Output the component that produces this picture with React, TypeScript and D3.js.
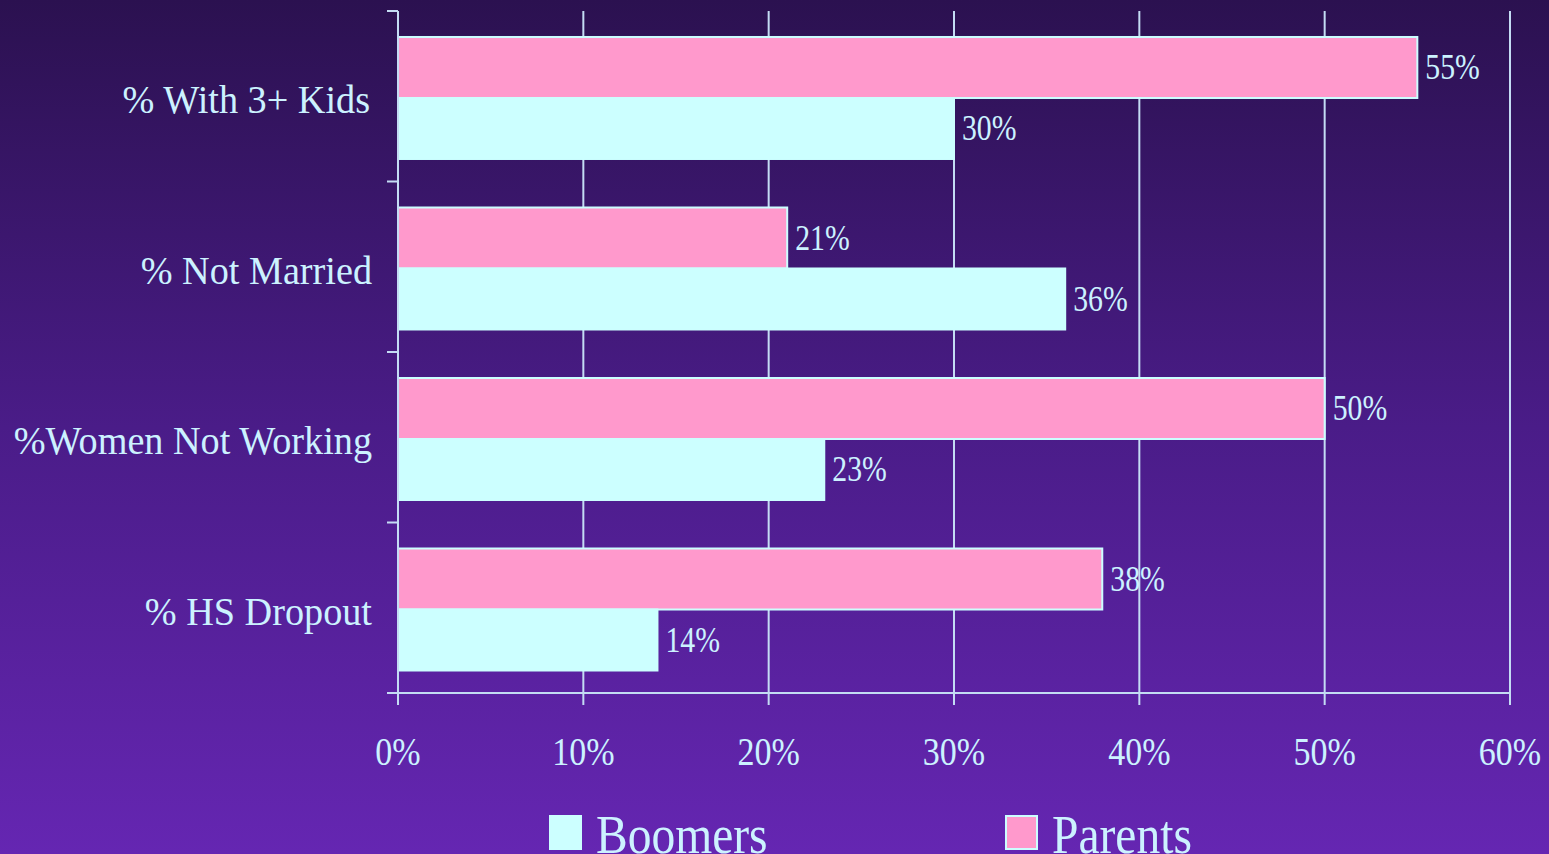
import React from "react";
import * as d3 from "d3";

const categories = ["% With 3+ Kids", "% Not Married", "%Women Not Working", "% HS Dropout"];
const seriesNames = ["Parents", "Boomers"];
const parentsValues = [55, 21, 50, 38];
const boomersValues = [30, 36, 23, 14];
const xTicks = [0, 10, 20, 30, 40, 50, 60];
const legendItems = ["Boomers", "Parents"];

const W = 1549;
const H = 854;
const TEXT = "#ccf2ff";
const GRID = "#c4dcf4";
const PINK = "#ff99cc";
const CYAN = "#ccffff";
const FONT = "'Liberation Serif', 'Times New Roman', serif";

export default function App() {
  const x = d3.scaleLinear().domain([0, 60]).range([398, 1510]);
  const y = d3
    .scaleBand<string>()
    .domain(categories)
    .range([11, 693])
    .paddingInner(0.2845)
    .paddingOuter(0.1422)
    .align(0.536);
  const ySub = d3.scaleBand<string>().domain(seriesNames).range([0, y.bandwidth()]);
  const values: Record<string, number[]> = { Parents: parentsValues, Boomers: boomersValues };
  const colors: Record<string, string> = { Parents: PINK, Boomers: CYAN };
  const step = (693 - 11) / categories.length;
  const boundaries = d3.range(categories.length + 1).map((i) => 11 + i * step);

  return (
    <div style={{ position: "absolute", left: 0, top: 0 }}>
      <svg width={W} height={H} style={{ display: "block" }}>
        <defs>
          <linearGradient id="bg" x1="0" y1="0" x2="0" y2="1">
            <stop offset="0" stopColor="#2b1150" />
            <stop offset="0.5" stopColor="#4a1c88" />
            <stop offset="1" stopColor="#6526b2" />
          </linearGradient>
        </defs>
        <rect x={0} y={0} width={W} height={H} fill="url(#bg)" />
        {xTicks.slice(1).map((t) => (
          <line key={"g" + t} x1={x(t)} x2={x(t)} y1={11} y2={693} stroke={GRID} strokeWidth={2} />
        ))}
        {categories.map((c, i) =>
          seriesNames.map((s) => {
            const v = values[s][i];
            const by = (y(c) as number) + (ySub(s) as number);
            const bh = ySub.bandwidth();
            return (
              <g key={c + s}>
                <rect x={x(0)} y={by} width={x(v) - x(0)} height={bh} fill={colors[s]} stroke={CYAN} strokeWidth={2} />
                <text
                  transform={`translate(${x(v) + 8},${by + bh / 2 + 12}) scale(0.85,1)`}
                  fill={TEXT}
                  fontFamily={FONT}
                  fontSize={35}
                >
                  {v}%
                </text>
              </g>
            );
          })
        )}
        <line x1={398} x2={398} y1={11} y2={693} stroke={GRID} strokeWidth={2} />
        <line x1={387} x2={1510} y1={693} y2={693} stroke={GRID} strokeWidth={2} />
        {boundaries.map((b, i) => (
          <line key={"yt" + i} x1={387} x2={398} y1={b} y2={b} stroke={GRID} strokeWidth={2} />
        ))}
        {xTicks.map((t) => (
          <line key={"xt" + t} x1={x(t)} x2={x(t)} y1={693} y2={705} stroke={GRID} strokeWidth={2} />
        ))}
        {xTicks.map((t) => (
          <text
            key={"xl" + t}
            transform={`translate(${x(t)},765) scale(0.83,1)`}
            textAnchor="middle"
            fill={TEXT}
            fontFamily={FONT}
            fontSize={41}
          >
            {t}%
          </text>
        ))}
        {categories.map((c, i) => (
          <text
            key={"cl" + c}
            transform={`translate(${i === 0 ? 370 : 372},${11 + (i + 0.5) * step + 17}) scale(0.98,1)`}
            textAnchor="end"
            fill={TEXT}
            fontFamily={FONT}
            fontSize={39}
            style={{ whiteSpace: "pre" }}
          >
            {c}
          </text>
        ))}
        {legendItems.map((s, i) => {
          const lx = i === 0 ? 550 : 1006;
          return (
            <g key={"lg" + s}>
              <rect x={lx} y={816} width={31} height={33} fill={colors[s]} stroke={CYAN} strokeWidth={2} />
              <text
                transform={`translate(${lx + 46},853) scale(0.88,1)`}
                fill={TEXT}
                fontFamily={FONT}
                fontSize={54}
              >
                {s}
              </text>
            </g>
          );
        })}
      </svg>
    </div>
  );
}
